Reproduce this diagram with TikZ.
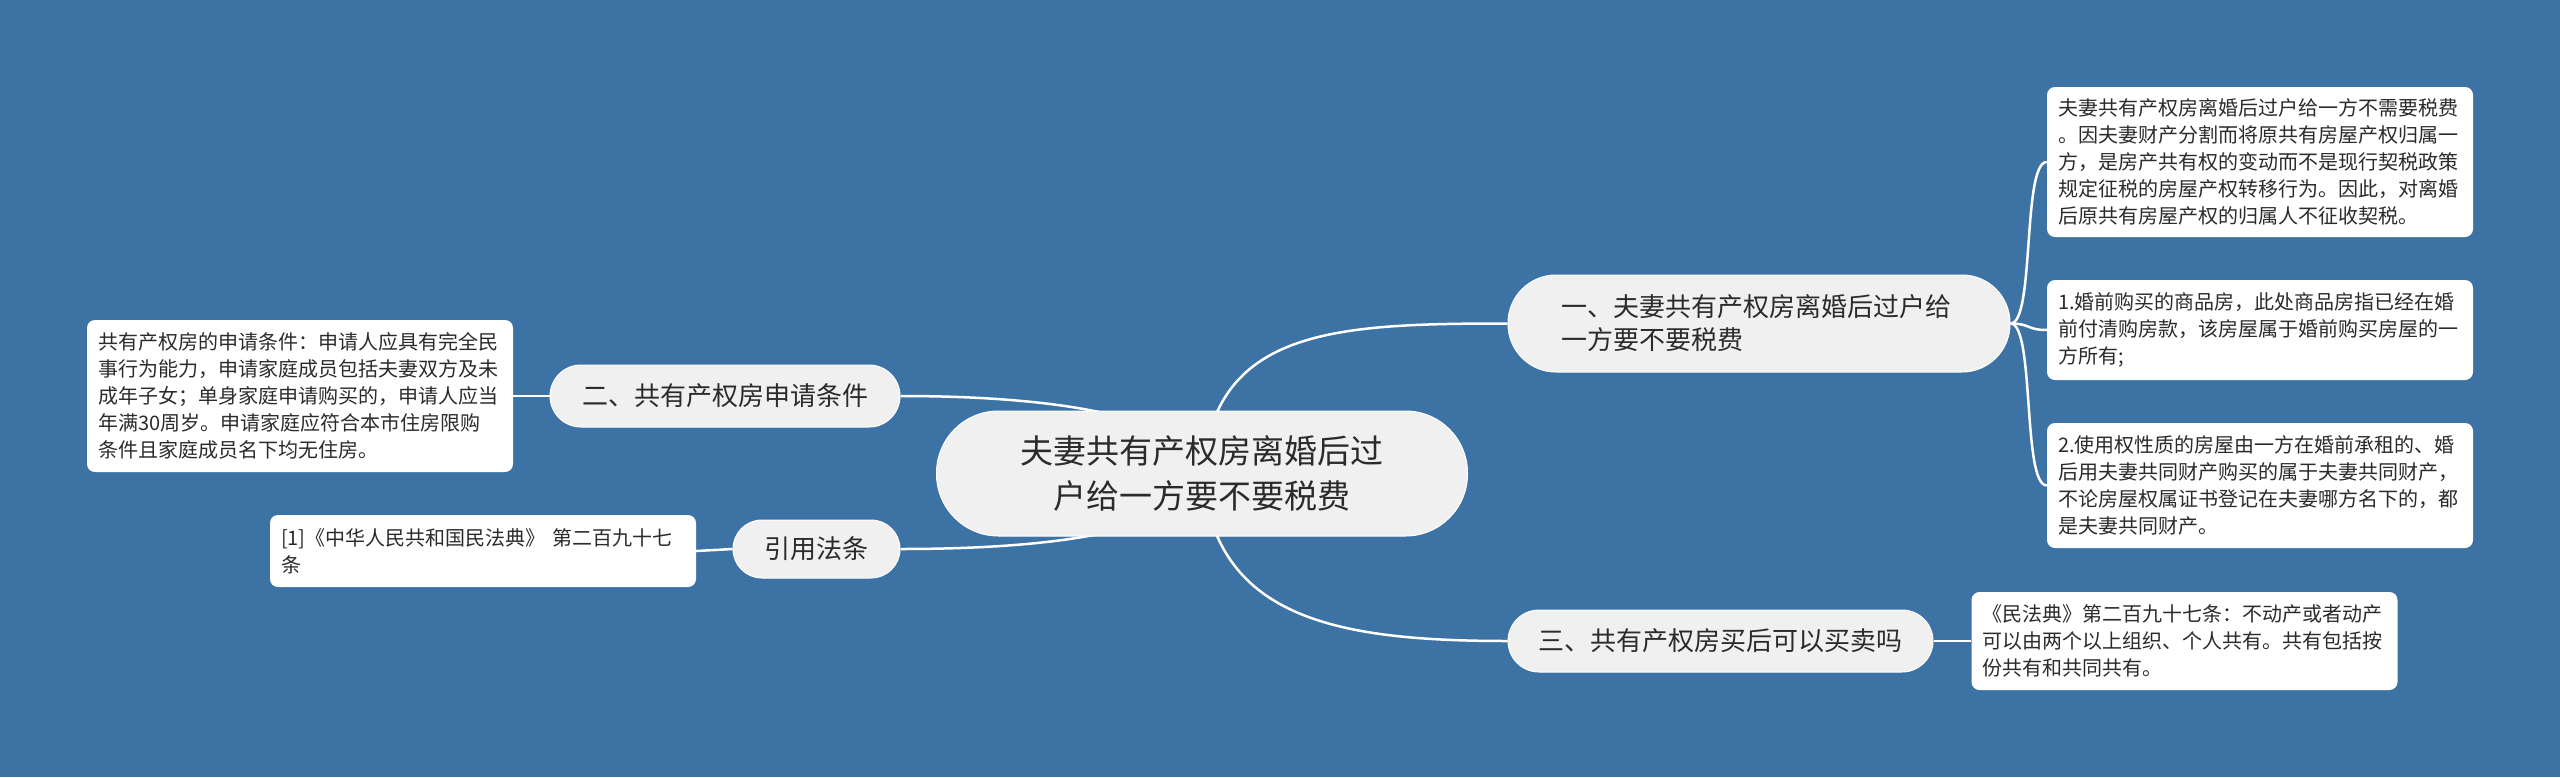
\documentclass[tikz,border=0pt]{standalone}
\usepackage{fontspec}
\setmainfont{Noto Sans CJK SC}
\definecolor{bgblue}{HTML}{3D72A5}
\definecolor{txt}{HTML}{2B2B2B}
\definecolor{branchfill}{HTML}{F0F0F0}
\pgfdeclarelayer{bg}\pgfdeclarelayer{edges}\pgfsetlayers{bg,edges,main}
\begin{document}
\begin{tikzpicture}[x=1pt,y=-1pt,
  centralnode/.style={rectangle, rounded corners=62pt, fill=branchfill, draw=white, line width=1pt, text=txt,
    font=\fontsize{33pt}{45pt}\selectfont, align=center, minimum width=531pt, minimum height=125pt, inner sep=0pt},
  branchnode/.style={rectangle, rounded corners=#1, fill=branchfill, draw=white, line width=1pt, text=txt,
    font=\fontsize{26pt}{33pt}\selectfont, inner sep=0pt},
  leafnode/.style={rectangle, rounded corners=8pt, fill=white, text=txt,
    font=\fontsize{20pt}{27pt}\selectfont, text width=404pt, align=left, inner xsep=11pt, inner ysep=0pt},
  conn/.style={draw=white, line width=2.5pt}]
\useasboundingbox (0,0) rectangle (2560,777);
\begin{pgfonlayer}{bg}
\fill[bgblue] (0,0) rectangle (2560,777);
\end{pgfonlayer}

\node[centralnode] (c) at (1202,473.5) {夫妻共有产权房离婚后过\\户给一方要不要税费};

\node[branchnode=48pt, minimum width=502pt, minimum height=97pt, text width=395pt, align=left] (b1) at (1759,323.5)
  {一、夫妻共有产权房离婚后过户给\\一方要不要税费};
\node[branchnode=31pt, minimum width=350pt, minimum height=62pt] (b2) at (725,396) {二、共有产权房申请条件};
\node[branchnode=29pt, minimum width=167pt, minimum height=58pt] (b3) at (816.5,549) {引用法条};
\node[branchnode=31pt, minimum width=425pt, minimum height=62pt] (b4) at (1720.5,641) {三、共有产权房买后可以买卖吗};

\node[leafnode, minimum height=150pt] (l1) at (2260,162) {夫妻共有产权房离婚后过户给一方不需要税费\\。因夫妻财产分割而将原共有房屋产权归属一\\方，是房产共有权的变动而不是现行契税政策\\规定征税的房屋产权转移行为。因此，对离婚\\后原共有房屋产权的归属人不征收契税。};
\node[leafnode, minimum height=100pt] (l2) at (2260,330) {1.婚前购买的商品房，此处商品房指已经在婚\\前付清购房款，该房屋属于婚前购买房屋的一\\方所有;};
\node[leafnode, minimum height=125pt] (l3) at (2260,485.5) {2.使用权性质的房屋由一方在婚前承租的、婚\\后用夫妻共同财产购买的属于夫妻共同财产，\\不论房屋权属证书登记在夫妻哪方名下的，都\\是夫妻共同财产。};
\node[leafnode, minimum height=98pt] (l4) at (2184.5,641) {《民法典》第二百九十七条：不动产或者动产\\可以由两个以上组织、个人共有。共有包括按\\份共有和共同共有。};
\node[leafnode, minimum height=152pt] (l5) at (300,396) {共有产权房的申请条件：申请人应具有完全民\\事行为能力，申请家庭成员包括夫妻双方及未\\成年子女；单身家庭申请购买的，申请人应当\\年满30周岁。申请家庭应符合本市住房限购\\条件且家庭成员名下均无住房。};
\node[leafnode, minimum height=72pt] (l6) at (483,551) {[1]《中华人民共和国民法典》 第二百九十七\\条};

\begin{pgfonlayer}{edges}
\draw[conn] (c.center) .. controls (1215,330) and (1330,323.5) .. (b1.west);
\draw[conn] (c.center) .. controls (1215,616) and (1330,641) .. (b4.west);
\draw[conn] (c.center) .. controls (1190,415) and (1050,396) .. (b2.east);
\draw[conn] (c.center) .. controls (1190,532) and (1050,549) .. (b3.east);
\draw[conn] (b1.east) .. controls (2035,323.5) and (2022,162) .. (l1.west);
\draw[conn] (b1.east) .. controls (2030,323.5) and (2027,330) .. (l2.west);
\draw[conn] (b1.east) .. controls (2035,323.5) and (2022,485.5) .. (l3.west);
\draw[conn] (b4.east) -- (l4.west);
\draw[conn] (b2.west) -- (l5.east);
\draw[conn] (b3.west) -- (l6.east);
\end{pgfonlayer}
\end{tikzpicture}
\end{document}
